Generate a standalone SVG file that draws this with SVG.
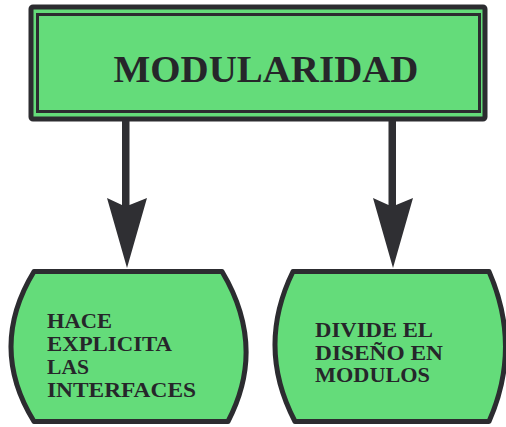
<svg xmlns="http://www.w3.org/2000/svg" width="506" height="427" viewBox="0 0 506 427">
<style>
.fill{fill:#64dc7a;stroke:#2c2c30;stroke-width:5;stroke-linejoin:round}
.t{font-family:"Liberation Serif","Times New Roman",serif;font-weight:bold;fill:#26262a}
.s{font-size:20px}
.arrow{fill:#2f2f33}
</style>
<rect width="506" height="427" fill="#ffffff"/>
<g id="modularidad">
<rect x="31" y="7" width="454" height="112" rx="2" class="fill" stroke-width="6"/>
<rect x="37.5" y="14.5" width="442" height="97" fill="none" stroke="#2c2c30" stroke-width="3"/>
<text x="266" y="82" class="t" font-size="37" text-anchor="middle" textLength="305" lengthAdjust="spacingAndGlyphs">MODULARIDAD</text>
</g>
<g id="connectors">
<path class="arrow" d="M122,121 L129.5,121 L129.5,205 L147,198 L127,268 L107,198 L122,205 Z"/>
<path class="arrow" d="M388.5,121 L396,121 L396,205 L413,198 L393,268 L373,198 L388.5,205 Z"/>
</g>
<g id="hace-explicita">
<path class="fill" d="M34,271.5 L222,271.5 Q267,347 228,421.5 L34,421.5 Q-12,347 34,271.5 Z"/>
<text class="t s" x="47" y="328" textLength="65" lengthAdjust="spacingAndGlyphs">HACE</text>
<text class="t s" x="47" y="351" textLength="125" lengthAdjust="spacingAndGlyphs">EXPLICITA</text>
<text class="t s" x="47" y="374" textLength="42" lengthAdjust="spacingAndGlyphs">LAS</text>
<text class="t s" x="47" y="397" textLength="149" lengthAdjust="spacingAndGlyphs">INTERFACES</text>
</g>
<g id="divide-diseno">
<path class="fill" d="M293,271.5 L489,271.5 Q522,347 489,421.5 L295,421.5 Q256,347 293,271.5 Z"/>
<text class="t s" x="315" y="337" textLength="118" lengthAdjust="spacingAndGlyphs">DIVIDE EL</text>
<text class="t s" x="315" y="359.5" textLength="128" lengthAdjust="spacingAndGlyphs">DISEÑO EN</text>
<text class="t s" x="315" y="382" textLength="115" lengthAdjust="spacingAndGlyphs">MODULOS</text>
</g>
</svg>
